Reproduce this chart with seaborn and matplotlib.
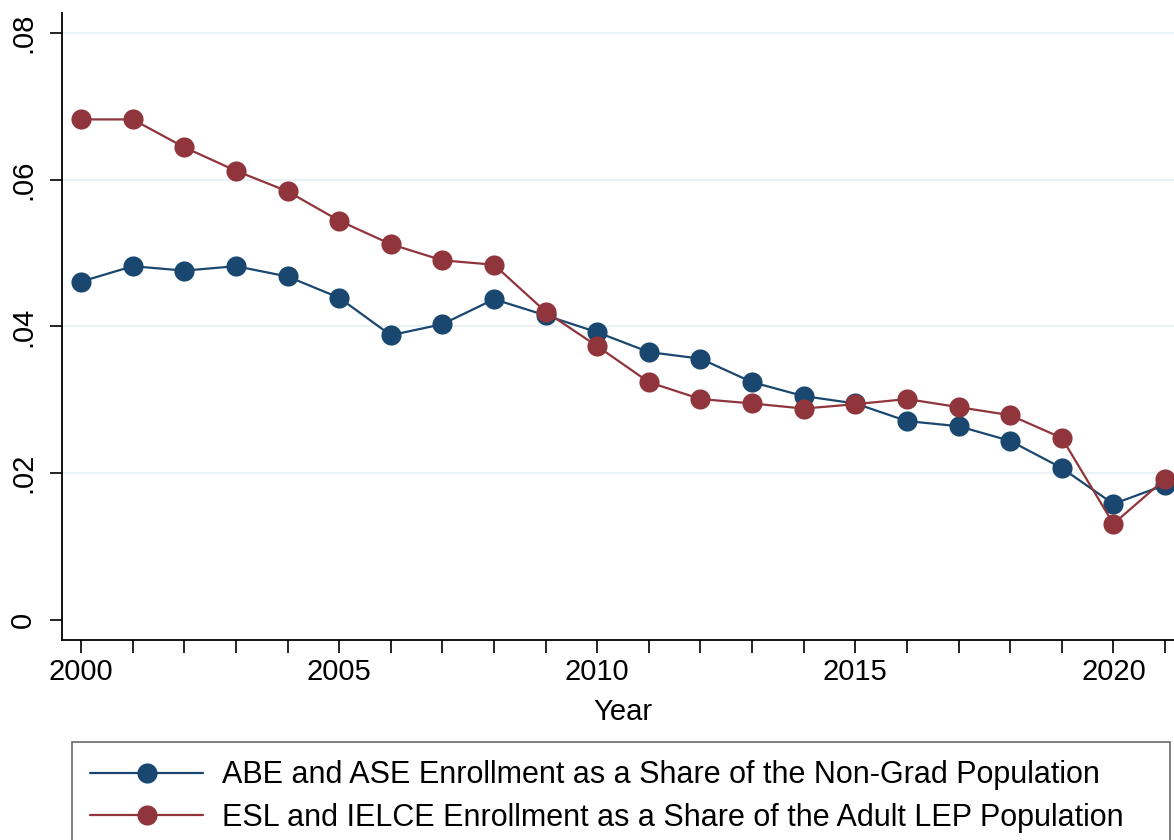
import matplotlib
matplotlib.use("Agg")
import matplotlib.pyplot as plt
import seaborn as sns
import pandas as pd

years = list(range(2000, 2022))
abe_ase = [0.0461, 0.0482, 0.0476, 0.0482, 0.0468, 0.0439, 0.0388, 0.0403,
           0.0437, 0.0415, 0.0392, 0.0365, 0.0356, 0.0324, 0.0305, 0.0295,
           0.0271, 0.0264, 0.0244, 0.0207, 0.0158, 0.0184]
esl_ielce = [0.0682, 0.0682, 0.0644, 0.0612, 0.0584, 0.0544, 0.0512, 0.0490,
             0.0484, 0.0420, 0.0373, 0.0324, 0.0301, 0.0295, 0.0288, 0.0294,
             0.0301, 0.0290, 0.0279, 0.0248, 0.0131, 0.0192]
series_names = ["ABE and ASE Enrollment as a Share of the Non-Grad Population",
                "ESL and IELCE Enrollment as a Share of the Adult LEP Population"]
y_ticks = [0, 0.02, 0.04, 0.06, 0.08]
y_tick_labels = ["0", ".02", ".04", ".06", ".08"]
x_ticks = list(range(2000, 2022))
x_tick_labels = [str(y) if y % 5 == 0 else "" for y in x_ticks]

navy = "#1a476f"
maroon = "#90353b"

df = pd.DataFrame({
    "Year": years * 2,
    "value": abe_ase + esl_ielce,
    "series": [series_names[0]] * len(years) + [series_names[1]] * len(years),
})

sns.set_style("white")
plt.rcParams["font.family"] = ["Liberation Sans", "DejaVu Sans"]
plt.rcParams["text.color"] = "black"
plt.rcParams["xtick.color"] = "black"
plt.rcParams["ytick.color"] = "black"
plt.rcParams["axes.labelcolor"] = "black"

fig = plt.figure(figsize=(11.74, 8.4), dpi=100)
# plot area runs past the right edge of the canvas
ax = fig.add_axes([62 / 1174, 200 / 840, 1134 / 1174, 627 / 840])

sns.lineplot(data=df, x="Year", y="value", hue="series",
             palette=[navy, maroon], marker="o", markersize=14.5,
             linewidth=1.6, ax=ax, legend=True, zorder=3)
for line in ax.lines:
    line.set_markeredgewidth(0)

ax.set_xlim(1999.63, 2021.6)
ax.set_ylim(-0.00273, 0.0827)
ax.set_yticks(y_ticks)
ax.set_yticklabels(y_tick_labels, rotation=90, va="center", fontsize=21)
ax.set_xticks(x_ticks)
ax.set_xticklabels(x_tick_labels, fontsize=21)
ax.tick_params(axis="y", length=9, width=1.2, color="black", pad=9, left=True)
ax.tick_params(axis="x", length=9, width=1.2, color="black", pad=4, bottom=True)

ax.grid(axis="y", color="#e8f0f3", linewidth=1.2, zorder=0)
ax.grid(axis="x", visible=False)
ax.yaxis.get_gridlines()[0].set_visible(False)

for side in ["top", "right"]:
    ax.spines[side].set_visible(False)
for side in ["left", "bottom"]:
    ax.spines[side].set_color("black")
    ax.spines[side].set_linewidth(1.3)

ax.set_xlabel("Year", fontsize=21)
ax.xaxis.set_label_coords((623 - 62) / 1134, -0.092)
ax.set_ylabel("")

handles, labels = ax.get_legend_handles_labels()
ax.get_legend().remove()
leg = fig.legend(handles, labels, loc="upper left",
                 bbox_to_anchor=(72 / 1174, 1 - 742 / 840, 1098 / 1174, 0),
                 mode="expand", fontsize=22, frameon=True, fancybox=False,
                 handlelength=3.7, handletextpad=0.6, borderpad=0.6,
                 labelspacing=0.42, borderaxespad=0)
frame = leg.get_frame()
frame.set_edgecolor("#444444")
frame.set_linewidth(1.2)
for h in leg.legend_handles:
    h.set_markeredgewidth(0)
    h.set_markersize(14.5)

fig.savefig("out.png", dpi=100)
